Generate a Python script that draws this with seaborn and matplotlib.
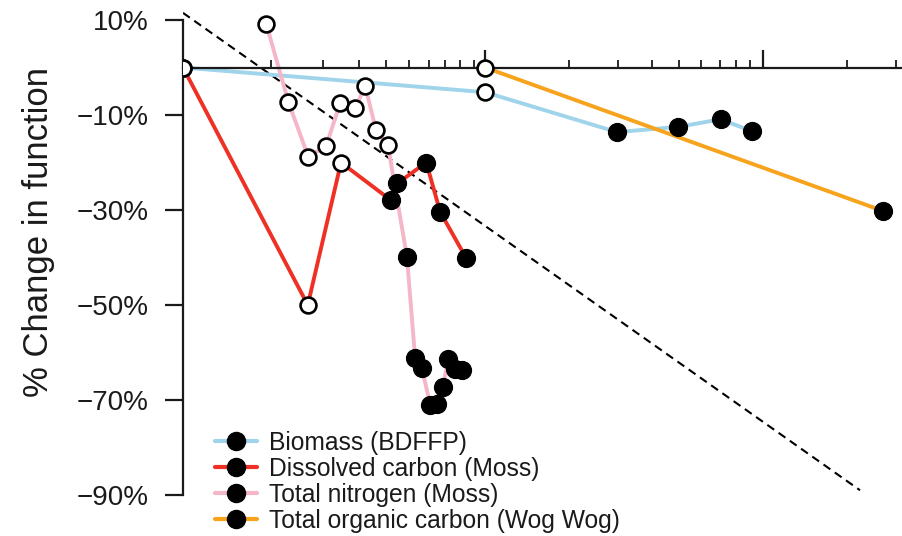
import numpy as np
import pandas as pd
import seaborn as sns
import matplotlib.pyplot as plt
from matplotlib.lines import Line2D

sns.set_style("white")
plt.rcParams['font.family'] = ['Liberation Sans', 'DejaVu Sans']

# series values (x on a log time axis, y = % change in function)
biomass_x = [0.818, 10, 29.85, 49.57, 70.44, 91.07]
biomass_y = [0, -5.2, -13.6, -12.5, -10.9, -13.4]
biomass_open = [True, True, False, False, False, False]

dissolved_x = [0.818, 2.30, 3.03, 4.57, 4.83, 6.14, 6.89, 8.54]
dissolved_y = [0, -50.0, -20.0, -27.9, -24.4, -20.0, -30.4, -40.1]
dissolved_open = [True, True, True, False, False, False, False, False]

nitrogen_x = [1.63, 1.96, 2.31, 2.68, 3.01, 3.41, 3.70, 4.05, 4.47,
              5.23, 5.60, 5.92, 6.34, 6.69, 7.04, 7.38, 7.80, 8.27]
nitrogen_y = [9.2, -7.3, -18.8, -16.5, -7.4, -8.6, -3.9, -13.2, -16.4,
              -39.8, -61.2, -63.2, -71.0, -70.8, -67.2, -61.4, -63.5, -63.7]
nitrogen_open = [True] * 9 + [False] * 9

toc_x = [10, 270.2]
toc_y = [0, -30.2]
toc_open = [True, False]

trend_x = [0.818, 223.4]
trend_y = [11.5, -89.0]

series_names = ['Biomass (BDFFP)', 'Dissolved carbon (Moss)',
                'Total nitrogen (Moss)', 'Total organic carbon (Wog Wog)']
series_colors = ['#9fd4ea', '#ee3124', '#f5b6c8', '#f7a31c']

yticks = [10, -10, -30, -50, -70, -90]
ytick_labels = ['10%', '\u221210%', '\u221230%', '\u221250%', '\u221270%', '\u221290%']
x_major = [10, 100]
x_minor = [1.70, 2.61, 3.53, 4.39, 5.34, 6.27, 7.18, 8.13, 9.13,
           20, 30, 40, 50, 60, 70, 80, 90, 200, 300]

frames = []
for name, xs, ys, op in zip(series_names,
                            [biomass_x, dissolved_x, nitrogen_x, toc_x],
                            [biomass_y, dissolved_y, nitrogen_y, toc_y],
                            [biomass_open, dissolved_open, nitrogen_open, toc_open]):
    d = pd.DataFrame({'x': xs, 'y': ys, 'open': op})
    d['series'] = name
    frames.append(d)
df = pd.concat(frames, ignore_index=True)
trend = pd.DataFrame({'x': trend_x, 'y': trend_y})

fig = plt.figure(figsize=(9.03, 5.36), dpi=100)
ax = fig.add_axes([183 / 903, 22 / 536, 720 / 903, 513 / 536])
ax.set_xscale('log')

sns.lineplot(data=trend, x='x', y='y', color='black', lw=1.5,
             linestyle=(0, (4, 2.6)), ax=ax, zorder=1)
sns.lineplot(data=df, x='x', y='y', hue='series', hue_order=series_names,
             palette=series_colors, units='series', estimator=None, sort=False,
             lw=2.8, ax=ax, legend=False, zorder=2)
sns.scatterplot(data=df[~df['open']], x='x', y='y', color='black', s=165,
                edgecolor='black', linewidth=1, ax=ax, legend=False, zorder=4)
sns.scatterplot(data=df[df['open']], x='x', y='y', color='white', s=130,
                edgecolor='black', linewidth=1.9, ax=ax, legend=False, zorder=5)

ax.set_xlim(0.818, 319)
ax.set_ylim(-94, 14)

for s in ['top', 'right']:
    ax.spines[s].set_visible(False)
ax.spines['left'].set_bounds(-90, 10)
ax.spines['left'].set_linewidth(1.6)
ax.spines['left'].set_color('#1a1a1a')
ax.spines['bottom'].set_position(('data', 0))
ax.spines['bottom'].set_linewidth(1.6)
ax.spines['bottom'].set_color('#1a1a1a')
ax.spines['left'].set_zorder(0)

ax.set_yticks(yticks)
ax.set_yticklabels(ytick_labels, fontsize=20, color='#1a1a1a')
ax.tick_params(axis='y', left=True, direction='out', length=13, width=1.6,
               color='#1a1a1a', pad=12)
ax.set_xticks(x_major)
ax.set_xticks(x_minor, minor=True)
ax.set_xticklabels([])
ax.set_xticklabels([], minor=True)
ax.tick_params(axis='x', which='both', bottom=True, direction='in', color='#1a1a1a')
ax.tick_params(axis='x', which='major', length=13, width=1.6)
ax.tick_params(axis='x', which='minor', length=6, width=1.3)

ax.set_xlabel('')
ax.set_ylabel('% Change in function', fontsize=25, color='#1a1a1a')
ax.yaxis.set_label_coords(-0.178, 0.55)

handles = [Line2D([0], [0], color=c, lw=3, marker='o', markersize=13,
                  markerfacecolor='black', markeredgecolor='black')
           for c in series_colors]
ax.legend(handles, series_names, loc='upper left', frameon=False,
          bbox_to_anchor=(210 / 903, 1 - 426 / 536), bbox_transform=fig.transFigure,
          fontsize=17.7, handlelength=1.7, handletextpad=0.5, labelspacing=0.08,
          borderpad=0.2, borderaxespad=0, labelcolor='#1a1a1a')

plt.savefig('out.png', dpi=100)
